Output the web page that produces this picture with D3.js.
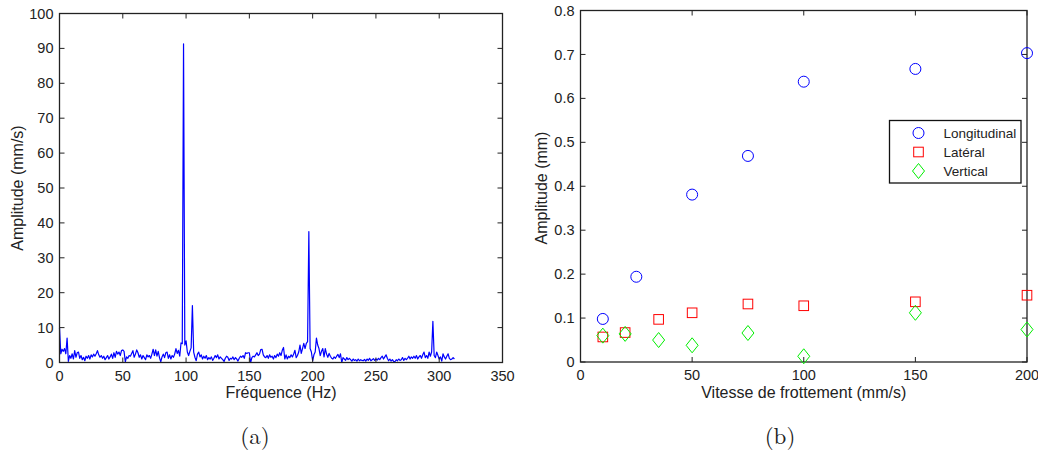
<!DOCTYPE html>
<html><head><meta charset="utf-8">
<script src="https://cdn.jsdelivr.net/npm/d3@7"></script>
<style>
html,body{margin:0;padding:0;background:#fff;}
svg{display:block;}
text{font-family:"Liberation Sans",Arial,Helvetica,sans-serif;fill:#222;}
.cap{font-family:"Latin Modern Roman","DejaVu Serif","Liberation Serif",serif;}
</style></head>
<body>
<svg id="c" width="1038" height="452"></svg>
<script>
// ---------- Data: (a) spectrum, amplitude (mm/s) per 1 Hz bin ----------
const spectrumFreqStart = 0;
const spectrumFreqStep = 1;
const spectrumAmp = [
10,2.5,3.8,3.2,4,2.5,7,0.3,2,1.2,
2.5,1,3.4,1.5,2.8,3,1.2,2,0.8,1.5,
0.5,1.8,1.2,2,1,2.2,1.6,2.4,1.8,2.5,
3.4,2.2,1.5,2,1.2,1.8,0.8,1.4,2,1,
1.6,2.4,1.2,2.8,1.5,3.2,2.4,3,2,3.4,
3.6,3.2,0.2,1.6,1.2,2,1.8,2.6,3.4,1.5,
2.4,3.6,2.8,1.5,2.2,1,2,1.4,0.8,2.2,
1.6,2,1.2,2.4,3.8,2,3.6,1.8,3.2,1.4,
0.2,1.6,2.4,1.4,2.8,3,1.2,2.2,1,2,
1.5,2.4,4,2.6,3.5,1.8,5.6,5.4,91.3,5,
6.2,3,2,3.2,4.2,16.3,3,1.5,0.5,2.4,
3,1.6,2.2,1,1.8,1.2,2,0.8,1.4,1,
1.6,0.6,1.2,2,1.4,2.2,1,1.6,1.2,0.8,
0.3,1.2,1.8,1.5,0.6,1.2,1,1.6,0.8,1.4,
1,0.4,1.2,1.8,1.5,2,1.2,2.8,2.6,2.8,
2.8,0,1.4,1.8,1.6,2.2,2.8,2,2.4,3.7,
3.8,2.2,1.6,1.4,2,1.2,2.2,1.5,1.8,1,
2,1.4,2.4,1.8,2.8,2,3.5,4.3,1,2.2,
1,1.8,1.4,2.2,1.6,2.4,3.5,1.4,2,3,
5,2.6,4,5.5,4,5.5,6,37.5,4,3,
0.5,2.2,3,7,5,4,2,3.2,4,1.6,
4,2.4,1.5,2.6,1.8,1.2,1,1.6,1.2,1.8,
2.3,1.4,2.5,0,1.4,1,0.6,1.4,0.8,1.2,
0.8,0.4,1,0.6,0.8,0.4,1,0.5,0.8,0.6,
0.5,0.9,0.4,1,0.6,1.2,0.5,0.8,1.1,0.6,
1,0.7,1.2,0.8,1.4,1.8,1,1.6,2.2,1.2,
0.5,1,0.4,0.8,0.3,0.2,0.8,0.5,1,0.6,
0.8,1.4,0.6,1.2,0.8,1.2,1.8,1,1.6,1.2,
1.8,1.2,2,1,1.6,2,1.2,2.2,3,1.4,
2,1.2,3,1.8,3,11.8,2,1.4,3,2,
1,1.6,0.4,2.5,1.6,1,1.8,2.5,1.2,0.8,
1,1.4,1
];
const aXTicks = [0,50,100,150,200,250,300,350];
const aYTicks = [0,10,20,30,40,50,60,70,80,90,100];

// ---------- Data: (b) amplitude vs rubbing speed ----------
const longSpeed = [10,25,50,75,100,150,200];
const longAmp   = [0.098,0.194,0.381,0.469,0.638,0.667,0.703];
const latSpeed  = [10,20,35,50,75,100,150,200];
const latAmp    = [0.057,0.067,0.097,0.112,0.132,0.128,0.137,0.152];
const vertSpeed = [10,20,35,50,75,100,150,200];
const vertAmp   = [0.060,0.064,0.050,0.038,0.066,0.013,0.112,0.074];
const bXTicks = [0,50,100,150,200];
const bYTicks = [0,0.1,0.2,0.3,0.4,0.5,0.6,0.7,0.8];
const seriesNames = ["Longitudinal","Latéral","Vertical"];

const svg = d3.select("#c");
const TICK = 5;
const FS = 14.5;

function boxAxes(g, x, y, xt, yt, fmtY){
  const [x0,x1] = x.range(), [y0,y1] = y.range();
  xt.forEach(v=>{
    g.append("line").attr("x1",x(v)).attr("x2",x(v)).attr("y1",y0).attr("y2",y0-TICK).attr("stroke","#222");
    g.append("line").attr("x1",x(v)).attr("x2",x(v)).attr("y1",y1).attr("y2",y1+TICK).attr("stroke","#222");
    g.append("text").attr("x",x(v)).attr("y",y0+18).attr("text-anchor","middle").attr("font-size",FS).text(v);
  });
  yt.forEach(v=>{
    g.append("line").attr("x1",x0).attr("x2",x0+TICK).attr("y1",y(v)).attr("y2",y(v)).attr("stroke","#222");
    g.append("line").attr("x1",x1).attr("x2",x1-TICK).attr("y1",y(v)).attr("y2",y(v)).attr("stroke","#222");
    g.append("text").attr("x",x0-6).attr("y",y(v)).attr("dy","0.35em").attr("text-anchor","end").attr("font-size",FS).text(fmtY(v));
  });
  g.append("rect").attr("x",x0).attr("y",y1).attr("width",x1-x0).attr("height",y0-y1)
    .attr("fill","none").attr("stroke","#222").attr("stroke-width",1.3);
}

// ---------- Panel (a) ----------
{
  const g = svg.append("g");
  const x = d3.scaleLinear().domain([0,350]).range([59.5,502.5]);
  const y = d3.scaleLinear().domain([0,100]).range([362.5,13.5]);
  const pts = spectrumAmp.map((a,i)=>[spectrumFreqStart+i*spectrumFreqStep, a]);
  g.append("path").datum(pts)
    .attr("d", d3.line().x(d=>x(d[0])).y(d=>y(d[1])))
    .attr("fill","none").attr("stroke","#0000ff").attr("stroke-width",1.2).attr("stroke-linejoin","round");
  boxAxes(g, x, y, aXTicks, aYTicks, v=>v);
  g.append("text").attr("x",(59.5+502.5)/2).attr("y",398).attr("text-anchor","middle").attr("font-size",16).text("Fréquence (Hz)");
  g.append("text").attr("transform","translate(23,188) rotate(-90)").attr("text-anchor","middle").attr("font-size",16).text("Amplitude (mm/s)");
  g.append("text").attr("class","cap").attr("x",255).attr("y",444).attr("text-anchor","middle").attr("font-size",23).text("(a)");
}

// ---------- Panel (b) ----------
{
  const g = svg.append("g");
  const x = d3.scaleLinear().domain([0,200]).range([580.5,1027]);
  const y = d3.scaleLinear().domain([0,0.8]).range([362,10.5]);
  boxAxes(g, x, y, bXTicks, bYTicks, v=>v===0?"0":d3.format(".1f")(v));

  const circle = (sel)=>sel.append("circle").attr("r",5.5).attr("fill","none").attr("stroke","#0000ff").attr("stroke-width",1);
  const square = (sel)=>sel.append("rect").attr("x",-4.8).attr("y",-4.8).attr("width",9.6).attr("height",9.6).attr("fill","none").attr("stroke","#ff0000").attr("stroke-width",1);
  const diamond = (sel)=>sel.append("path").attr("d","M0,-7.5L6,0L0,7.5L-6,0Z").attr("fill","none").attr("stroke","#00ee00").attr("stroke-width",1);

  const series = [
    {sp:longSpeed, am:longAmp, mk:circle},
    {sp:latSpeed, am:latAmp, mk:square},
    {sp:vertSpeed, am:vertAmp, mk:diamond}
  ];
  series.forEach(s=>{
    s.sp.forEach((v,i)=>{
      const m = g.append("g").attr("transform",`translate(${x(v)},${y(s.am[i])})`);
      s.mk(m);
    });
  });

  g.append("text").attr("x",(580.5+1027)/2).attr("y",398).attr("text-anchor","middle").attr("font-size",16).text("Vitesse de frottement (mm/s)");
  g.append("text").attr("transform","translate(547,188) rotate(-90)").attr("text-anchor","middle").attr("font-size",16).text("Amplitude (mm)");
  g.append("text").attr("class","cap").attr("x",780).attr("y",444).attr("text-anchor","middle").attr("font-size",23).text("(b)");

  const lg = g.append("g");
  lg.append("rect").attr("x",889.5).attr("y",120.5).attr("width",131.5).attr("height",62.5)
    .attr("fill","#fff").attr("stroke","#111").attr("stroke-width",1.3);
  series.forEach((s,i)=>{
    const yy = 133 + i*19;
    s.mk(lg.append("g").attr("transform",`translate(918.5,${yy})`));
    lg.append("text").attr("x",943.5).attr("y",yy).attr("dy","0.35em").attr("font-size",13.5).text(seriesNames[i]);
  });
}
</script>
</body></html>
